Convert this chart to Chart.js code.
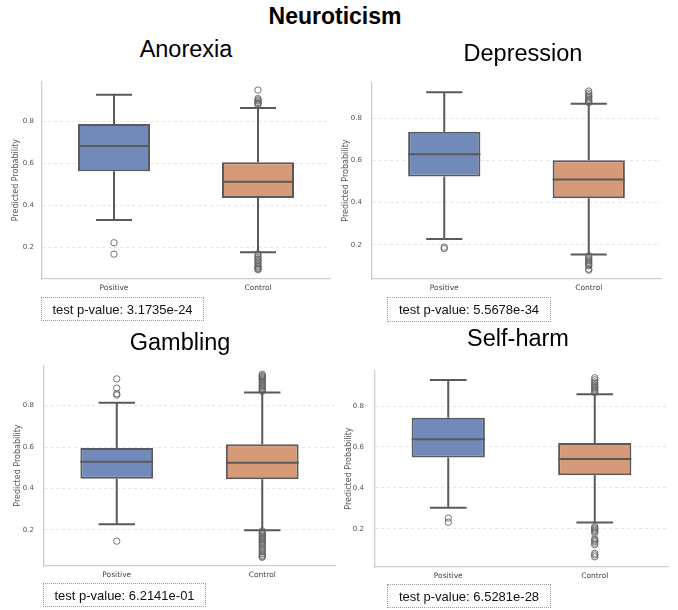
<!DOCTYPE html>
<html>
<head>
<meta charset="utf-8">
<script src="https://cdn.jsdelivr.net/npm/chart.js@4/dist/chart.umd.min.js"></script>
<style>
  html, body { margin: 0; padding: 0; background: #ffffff; }
  #wrap { position: relative; width: 678px; height: 610px; overflow: hidden; background: #fff; }
  .ttl { position: absolute; font-family: "Liberation Sans", Arial, sans-serif; color: #000; white-space: nowrap; line-height: 1; transform: translateX(-50%); }
  .pbox { position: absolute; box-sizing: border-box; border: 1px dotted #9a9a9a; font-family: "Liberation Sans", Arial, sans-serif; font-size: 13px; color: #111; text-align: center; display: flex; align-items: center; justify-content: center; }
  .cv { position: absolute; }
</style>
</head>
<body>
<div id="wrap"></div>
<script>
// ---------------- data ----------------
const mainTitle = 'Neuroticism';
const categories = ['Positive', 'Control'];
const panelTitles = ['Anorexia', 'Depression', 'Gambling', 'Self-harm'];
const pValues = ['3.1735e-24', '5.5678e-34', '6.2141e-01', '6.5281e-28'];
const yTicks = [0.2, 0.4, 0.6, 0.8];
const yAxisTitle = 'Predicted Probability';

// box stats: [lower whisker, Q1, median, Q3, upper whisker]
const anorexiaPositive   = [0.330, 0.562, 0.681, 0.786, 0.925];
const anorexiaControl    = [0.177, 0.434, 0.512, 0.604, 0.862];
const depressionPositive = [0.228, 0.523, 0.629, 0.735, 0.922];
const depressionControl  = [0.154, 0.421, 0.509, 0.600, 0.868];
const gamblingPositive   = [0.228, 0.447, 0.529, 0.595, 0.814];
const gamblingControl    = [0.199, 0.445, 0.524, 0.614, 0.863];
const selfharmPositive   = [0.303, 0.548, 0.637, 0.743, 0.927];
const selfharmControl    = [0.230, 0.462, 0.541, 0.619, 0.857];

// outliers
const anorexiaPositiveOut   = [0.222, 0.168];
const anorexiaControlOut    = [0.947, 0.906, 0.900, 0.895, 0.888, 0.883, 0.878,
                               0.170, 0.160, 0.152, 0.145, 0.138, 0.130, 0.122, 0.115, 0.108, 0.102, 0.098, 0.094];
const depressionPositiveOut = [0.189, 0.182];
const depressionControlOut  = [0.928, 0.918, 0.910, 0.903, 0.897, 0.890, 0.884, 0.878, 0.874,
                               0.148, 0.140, 0.132, 0.125, 0.118, 0.112, 0.106, 0.100, 0.085, 0.080];
const gamblingPositiveOut   = [0.929, 0.884, 0.857, 0.851, 0.146];
const gamblingControlOut    = [0.951, 0.945, 0.940, 0.935, 0.930, 0.925, 0.918, 0.912, 0.905, 0.898, 0.892, 0.886, 0.880, 0.874, 0.869,
                               0.195, 0.188, 0.182, 0.176, 0.170, 0.164, 0.158, 0.152, 0.146, 0.140, 0.133, 0.126, 0.118, 0.110, 0.102, 0.094, 0.086, 0.078, 0.072, 0.068];
const selfharmPositiveOut   = [0.252, 0.232];
const selfharmControlOut    = [0.938, 0.928, 0.918, 0.910, 0.903, 0.896, 0.890, 0.884, 0.878, 0.872, 0.866,
                               0.210, 0.204, 0.198, 0.192, 0.186, 0.178, 0.150, 0.144, 0.138, 0.130, 0.122, 0.080, 0.072, 0.063];

const panelStats = [
  [anorexiaPositive, anorexiaControl],
  [depressionPositive, depressionControl],
  [gamblingPositive, gamblingControl],
  [selfharmPositive, selfharmControl]
];
const panelOutliers = [
  [anorexiaPositiveOut, anorexiaControlOut],
  [depressionPositiveOut, depressionControlOut],
  [gamblingPositiveOut, gamblingControlOut],
  [selfharmPositiveOut, selfharmControlOut]
];

// ---------------- layout / style ----------------
const boxColors = ['#728aba', '#d69a78'];
const edgeColor = '#5a5a5a';
const layoutCfg = [
  { L: 42,  R: 330, T: 79,  B: 279, ymin: 0.050, ymax: 0.989, tickPad: 8,
    title: { x: 186, base: 58 }, pbox: { x: 41, y: 297, w: 163, h: 24 } },
  { L: 372, R: 661, T: 78,  B: 279, ymin: 0.038, ymax: 0.970, tickPad: 10,
    title: { x: 523, base: 62 }, pbox: { x: 387, y: 297, w: 164, h: 25 } },
  { L: 44,  R: 335, T: 361, B: 566, ymin: 0.026, ymax: 0.995, tickPad: 10,
    title: { x: 180, base: 351 }, pbox: { x: 43, y: 583, w: 163, h: 24 } },
  { L: 375, R: 668, T: 365, B: 567, ymin: 0.013, ymax: 0.975, tickPad: 11,
    title: { x: 518, base: 347 }, pbox: { x: 387, y: 584, w: 164, h: 24 } }
];

const wrap = document.getElementById('wrap');

function addTitle(text, cx, base, size, bold) {
  const d = document.createElement('div');
  d.className = 'ttl';
  d.textContent = text;
  d.style.fontSize = size + 'px';
  if (bold) d.style.fontWeight = 'bold';
  d.style.left = cx + 'px';
  d.style.top = (base - 0.8465 * size) + 'px';
  wrap.appendChild(d);
}

addTitle(mainTitle, 335, 24, 23, true);

const boxParts = {
  id: 'boxParts',
  beforeDatasetsDraw(chart, args, opts) {
    const { ctx } = chart;
    const xs = chart.scales.x, ys = chart.scales.y;
    const meta = chart.getDatasetMeta(0);
    ctx.save();
    ctx.strokeStyle = edgeColor;
    ctx.lineWidth = 2;
    ctx.lineCap = 'butt';
    opts.stats.forEach((s, i) => {
      const cx = xs.getPixelForValue(i);
      const w = meta.data[i].width;
      ctx.beginPath();
      ctx.moveTo(cx, ys.getPixelForValue(s[0]));
      ctx.lineTo(cx, ys.getPixelForValue(s[1]));
      ctx.moveTo(cx, ys.getPixelForValue(s[3]));
      ctx.lineTo(cx, ys.getPixelForValue(s[4]));
      ctx.moveTo(cx - w / 4, ys.getPixelForValue(s[0]));
      ctx.lineTo(cx + w / 4, ys.getPixelForValue(s[0]));
      ctx.moveTo(cx - w / 4, ys.getPixelForValue(s[4]));
      ctx.lineTo(cx + w / 4, ys.getPixelForValue(s[4]));
      ctx.stroke();
    });
    ctx.restore();
  },
  afterDatasetDraw(chart, args, opts) {
    if (args.index !== 0) return;
    const { ctx } = chart;
    const xs = chart.scales.x, ys = chart.scales.y;
    const meta = chart.getDatasetMeta(0);
    ctx.save();
    ctx.strokeStyle = edgeColor;
    ctx.lineWidth = 2;
    opts.stats.forEach((s, i) => {
      const cx = xs.getPixelForValue(i);
      const w = meta.data[i].width;
      const y = ys.getPixelForValue(s[2]);
      ctx.beginPath();
      ctx.moveTo(cx - w / 2, y);
      ctx.lineTo(cx + w / 2, y);
      ctx.stroke();
    });
    ctx.restore();
  }
};

layoutCfg.forEach((c, p) => {
  const left = c.L - 42, top = c.T - 10;
  const width = c.R + 8 - left, height = c.B + 20 - top;
  const cv = document.createElement('canvas');
  cv.className = 'cv';
  cv.width = width; cv.height = height;
  cv.style.left = left + 'px'; cv.style.top = top + 'px';
  cv.style.width = width + 'px'; cv.style.height = height + 'px';
  wrap.appendChild(cv);

  const stats = panelStats[p];
  const outs = panelOutliers[p];
  const outlierData = [];
  outs.forEach((arr, i) => arr.forEach(v => outlierData.push({ x: categories[i], y: v })));

  new Chart(cv.getContext('2d'), {
    type: 'bar',
    data: {
      labels: categories,
      datasets: [
        {
          type: 'bar',
          data: stats.map(s => [s[1], s[3]]),
          backgroundColor: boxColors,
          borderColor: edgeColor,
          borderWidth: 2,
          borderSkipped: false,
          barPercentage: 0.5,
          categoryPercentage: 1.0,
          grouped: false,
          order: 2
        },
        {
          type: 'line',
          data: outlierData,
          showLine: false,
          pointStyle: 'circle',
          pointRadius: 3.2,
          pointBorderWidth: 1,
          pointBorderColor: 'rgba(95,95,95,0.85)',
          pointBackgroundColor: 'rgba(255,255,255,0)',
          order: 1
        }
      ]
    },
    options: {
      responsive: false,
      animation: false,
      devicePixelRatio: 1,
      layout: { padding: { left: 0, right: 8, top: 10, bottom: 0 } },
      plugins: {
        legend: { display: false },
        tooltip: { enabled: false },
        boxParts: { stats: stats }
      },
      scales: {
        x: {
          type: 'category',
          offset: true,
          grid: { display: false, drawTicks: false },
          border: { display: true, color: '#cfcfcf', width: 1.3 },
          ticks: { font: { family: 'DejaVu Sans', size: 7.5 }, color: '#444', padding: 5 },
          afterFit: s => { s.height = 20; }
        },
        y: {
          min: c.ymin, max: c.ymax,
          afterBuildTicks: s => { s.ticks = yTicks.map(v => ({ value: v })); },
          grid: { color: '#dedede', lineWidth: 0.8, drawTicks: false },
          border: { display: true, color: '#cfcfcf', width: 1.3, dash: [3, 3] },
          ticks: {
            font: { family: 'DejaVu Sans', size: 7 }, color: '#555', padding: c.tickPad,
            callback: v => Number(v).toFixed(1)
          },
          title: {
            display: true, text: yAxisTitle,
            font: { family: 'DejaVu Sans', size: 8 }, color: '#555',
            padding: { top: 11, bottom: 0 }
          },
          afterFit: s => { s.width = 42; }
        }
      }
    },
    plugins: [boxParts]
  });

  addTitle(panelTitles[p], c.title.x, c.title.base, 23.5, false);

  const pb = document.createElement('div');
  pb.className = 'pbox';
  pb.textContent = 'test p-value: ' + pValues[p];
  pb.style.left = c.pbox.x + 'px'; pb.style.top = c.pbox.y + 'px';
  pb.style.width = c.pbox.w + 'px'; pb.style.height = c.pbox.h + 'px';
  wrap.appendChild(pb);
});
</script>
</body>
</html>
